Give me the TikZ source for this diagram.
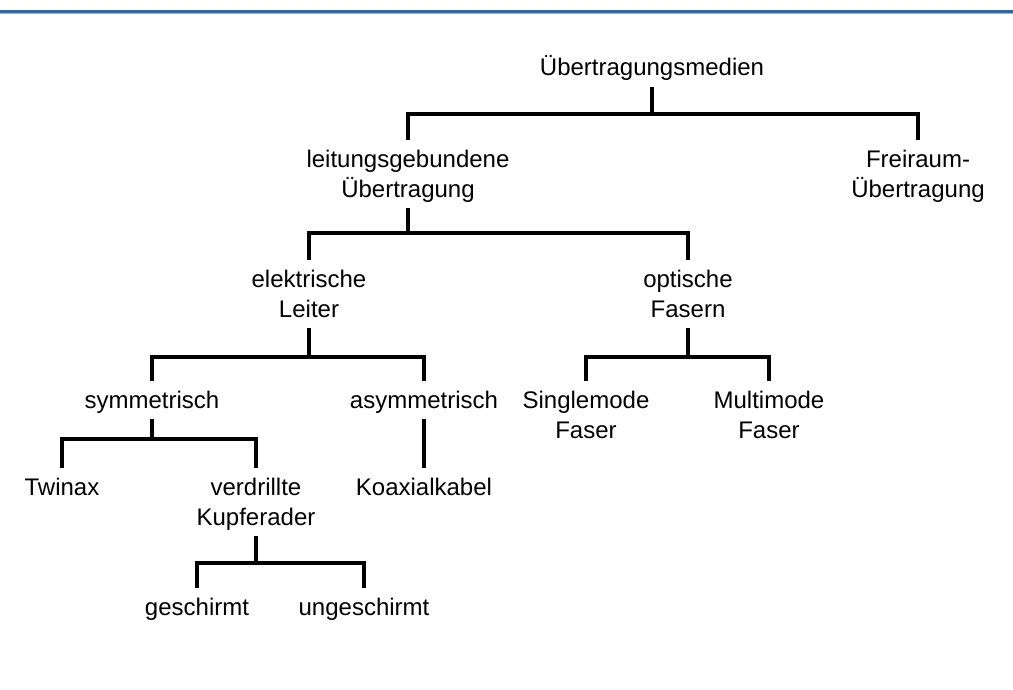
\documentclass[tikz,border=0pt]{standalone}
\usepackage{fontspec}
\setmainfont{Liberation Sans}
\newcommand\lst{\vrule width0pt height22pt depth6pt\relax}
\definecolor{topblue}{RGB}{50,100,170}
\definecolor{topblue2}{RGB}{150,180,220}
\begin{document}
\begin{tikzpicture}[x=1pt,y=-1pt,
  lbl/.style={inner xsep=0pt,inner ysep=5pt,align=center,font=\fontsize{24}{30}\selectfont},
  edge/.style={line width=3.5pt,black}]
\useasboundingbox (0,0) rectangle (1013,690);
\fill[topblue] (0,10) rectangle (1013,13);
\fill[topblue2] (0,13) rectangle (1013,14);
% nodes
\node[lbl] (root)  at (652,68)  {\lst Übertragungsmedien};
\node[lbl] (leit)  at (408,174) {\lst leitungsgebundene\\\lst Übertragung};
\node[lbl] (frei)  at (918,174) {\lst Freiraum-\\\lst Übertragung};
\node[lbl] (elek)  at (309,294) {\lst elektrische\\\lst Leiter};
\node[lbl] (opt)   at (688,294) {\lst optische\\\lst Fasern};
\node[lbl] (sym)   at (152,400) {\lst symmetrisch};
\node[lbl] (asym)  at (424,400) {\lst asymmetrisch};
\node[lbl] (single) at (586,415) {\lst Singlemode\\\lst Faser};
\node[lbl] (multi) at (769,415) {\lst Multimode\\\lst Faser};
\node[lbl] (twin)  at (62,487)  {\lst Twinax};
\node[lbl] (verd)  at (256,502) {\lst verdrillte\\\lst Kupferader};
\node[lbl] (koax)  at (424,487) {\lst Koaxialkabel};
\node[lbl] (gesch) at (197,607) {\lst geschirmt};
\node[lbl] (unge)  at (364,607) {\lst ungeschirmt};
% connectors
\draw[edge] (root.south) -- ++(0,27) -| (leit.north);
\draw[edge] (root.south) -- ++(0,27) -| (frei.north);
\draw[edge] (leit.south) -- ++(0,25) -| (elek.north);
\draw[edge] (leit.south) -- ++(0,25) -| (opt.north);
\draw[edge] (elek.south) -- ++(0,29) -| (sym.north);
\draw[edge] (elek.south) -- ++(0,29) -| (asym.north);
\draw[edge] (opt.south) -- ++(0,29) -| (single.north);
\draw[edge] (opt.south) -- ++(0,29) -| (multi.north);
\draw[edge] (sym.south) -- ++(0,20) -| (twin.north);
\draw[edge] (sym.south) -- ++(0,20) -| (verd.north);
\draw[edge] (asym.south) -- (koax.north);
\draw[edge] (verd.south) -- ++(0,27) -| (gesch.north);
\draw[edge] (verd.south) -- ++(0,27) -| (unge.north);
\end{tikzpicture}
\end{document}
